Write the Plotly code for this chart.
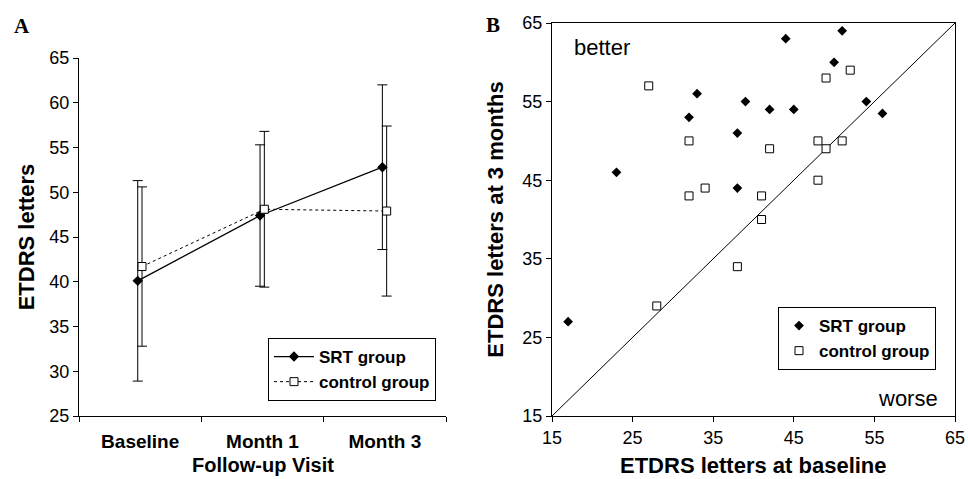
import plotly.graph_objects as go

# ---- Panel A data ----
visits = ["Baseline", "Month 1", "Month 3"]
srt_mean = [40.1, 47.4, 52.8]
srt_sd = [11.2, 7.9, 9.2]
ctrl_mean = [41.7, 48.1, 47.9]
ctrl_sd = [8.9, 8.7, 9.5]

# ---- Panel B data ----
srt_base = [17, 23, 32, 33, 38, 38, 39, 42, 44, 45, 50, 51, 54, 56]
srt_3m = [27, 46, 53, 56, 51, 44, 55, 54, 63, 54, 60, 64, 55, 53.5]
ctrl_base = [27, 28, 32, 32, 34, 38, 41, 41, 42, 48, 48, 49, 49, 51, 52]
ctrl_3m = [57, 29, 50, 43, 44, 34, 43, 40, 49, 50, 45, 58, 49, 50, 59]

y_ticks_a = [25, 30, 35, 40, 45, 50, 55, 60, 65]
ticks_b = [15, 25, 35, 45, 55, 65]

W, H = 968, 479
FONT = "Liberation Sans"

centers = [i + 0.5 for i in range(len(visits))]
x_srt = [c - 0.02 for c in centers]
x_ctrl = [c + 0.015 for c in centers]

fig = go.Figure()

fig.add_trace(go.Scatter(
    x=x_srt, y=srt_mean, mode="lines+markers", name="SRT group",
    line=dict(color="black", width=1.3),
    marker=dict(symbol="diamond", size=8, color="black"),
    error_y=dict(type="data", array=srt_sd, visible=True, color="black", thickness=1, width=5),
    xaxis="x", yaxis="y", legend="legend",
))
fig.add_trace(go.Scatter(
    x=x_ctrl, y=ctrl_mean, mode="lines+markers", name="control group",
    line=dict(color="black", width=1, dash="dot"),
    marker=dict(symbol="square", size=8, color="white", line=dict(color="black", width=1)),
    error_y=dict(type="data", array=ctrl_sd, visible=True, color="black", thickness=1, width=5),
    xaxis="x", yaxis="y", legend="legend",
))

# Panel B
fig.add_trace(go.Scatter(
    x=[ticks_b[0], ticks_b[-1]], y=[ticks_b[0], ticks_b[-1]], mode="lines",
    line=dict(color="black", width=1), showlegend=False, hoverinfo="skip",
    xaxis="x2", yaxis="y2",
))
fig.add_trace(go.Scatter(
    x=srt_base, y=srt_3m, mode="markers", name="SRT group",
    marker=dict(symbol="diamond", size=7.5, color="black"),
    xaxis="x2", yaxis="y2", legend="legend2",
))
fig.add_trace(go.Scatter(
    x=ctrl_base, y=ctrl_3m, mode="markers", name="control group",
    marker=dict(symbol="square", size=8, color="white", line=dict(color="black", width=1)),
    xaxis="x2", yaxis="y2", legend="legend2",
))

tickfont = dict(family=FONT, size=18, color="black")
titlefont = dict(family=FONT, size=22, color="black", weight="bold")

fig.update_layout(
    width=W, height=H,
    margin=dict(l=0, r=0, t=0, b=0, autoexpand=False),
    paper_bgcolor="white", plot_bgcolor="white",
    font=dict(family=FONT, color="black"),
    xaxis=dict(
        domain=[79 / W, 446 / W], range=[0, 3], automargin=False,
        tickmode="array", tickvals=centers, ticktext=visits, ticks="",
        ticklabelstandoff=8,
        tickfont=dict(family=FONT, size=19, color="black", weight="bold"),
        minor=dict(tickmode="array", tickvals=[0, 1, 2, 3], ticks="outside", ticklen=5, tickcolor="black"),
        showline=True, linecolor="black", linewidth=1, showgrid=False, zeroline=False,
        anchor="y", fixedrange=True,
    ),
    yaxis=dict(
        domain=[1 - 416 / H, 1 - 58 / H], range=[25, 65], automargin=False,
        tickmode="array", tickvals=y_ticks_a, ticks="outside", ticklen=5, tickcolor="black",
        tickfont=tickfont,
        showline=True, linecolor="black", linewidth=1, showgrid=False, zeroline=False,
        title=dict(text="ETDRS letters", font=titlefont, standoff=8),
        anchor="x",
    ),
    xaxis2=dict(
        domain=[552 / W, 955 / W], range=[15, 65], automargin=False,
        tickmode="array", tickvals=ticks_b, ticks="outside", ticklen=5, tickcolor="black",
        tickfont=tickfont,
        showline=True, mirror=True, linecolor="black", linewidth=1, showgrid=False, zeroline=False,
        anchor="y2",
    ),
    yaxis2=dict(
        domain=[1 - 416 / H, 1 - 23 / H], range=[15, 65], automargin=False,
        tickmode="array", tickvals=ticks_b, ticks="outside", ticklen=5, tickcolor="black",
        tickfont=tickfont,
        showline=True, mirror=True, linecolor="black", linewidth=1, showgrid=False, zeroline=False,
        title=dict(text="ETDRS letters at 3 months", font=titlefont, standoff=12),
        anchor="x2",
    ),
    legend=dict(
        x=268 / W, y=1 - 338 / H, xanchor="left", yanchor="top",
        bordercolor="black", borderwidth=1, bgcolor="white",
        font=dict(family=FONT, size=17, color="black", weight="bold"),
        itemwidth=40, tracegroupgap=0,
    ),
    legend2=dict(
        x=778 / W, y=1 - 307 / H, xanchor="left", yanchor="top",
        bordercolor="black", borderwidth=1, bgcolor="white",
        font=dict(family=FONT, size=17, color="black", weight="bold"),
        itemwidth=30, tracegroupgap=0,
    ),
    annotations=[
        dict(text="Follow-up Visit", x=0.5, y=1 - 465 / H, xref="x domain", yref="paper",
             xanchor="center", yanchor="middle", showarrow=False, borderpad=0,
             font=dict(family=FONT, size=20, color="black", weight="bold")),
        dict(text="ETDRS letters at baseline", x=0.5, y=1 - 465 / H, xref="x2 domain", yref="paper",
             xanchor="center", yanchor="middle", showarrow=False, borderpad=0, font=titlefont),
        dict(text="A", x=12 / W, y=1 - 12 / H, xref="paper", yref="paper", xanchor="left", yanchor="top",
             showarrow=False, font=dict(family="Liberation Serif", size=21, color="black", weight="bold")),
        dict(text="B", x=484 / W, y=1 - 11 / H, xref="paper", yref="paper", xanchor="left", yanchor="top",
             showarrow=False, font=dict(family="Liberation Serif", size=21, color="black", weight="bold")),
        dict(text="better", x=572 / W, y=1 - 47 / H, xref="paper", yref="paper", xanchor="left", yanchor="middle",
             showarrow=False, font=dict(family=FONT, size=22, color="black")),
        dict(text="worse", x=940 / W, y=1 - 398 / H, xref="paper", yref="paper", xanchor="right", yanchor="middle",
             showarrow=False, font=dict(family=FONT, size=22, color="black")),
    ],
    showlegend=True,
)

fig.write_html(
    "out.html",
    config={"displayModeBar": False},
    post_script="document.body.style.margin='0';document.body.style.overflow='hidden';",
)
